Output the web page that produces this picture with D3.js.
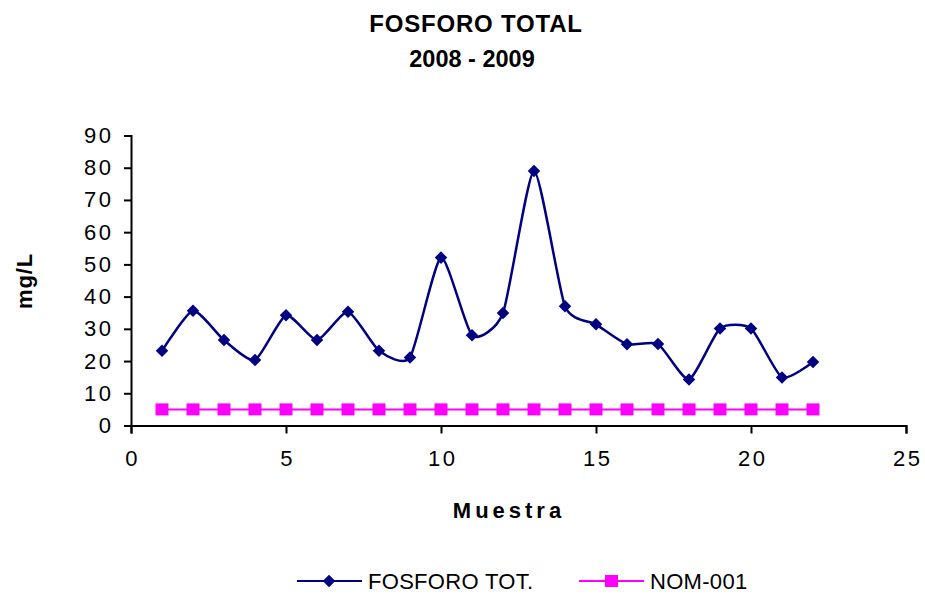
<!DOCTYPE html>
<html>
<head>
<meta charset="utf-8">
<script src="https://cdn.jsdelivr.net/npm/d3@7"></script>
<style>
  html, body { margin: 0; padding: 0; background: #fff; }
  svg { display: block; font-family: "Liberation Sans", Arial, sans-serif; }
</style>
</head>
<body>
<svg id="chart" width="925" height="594"></svg>
<script>
// Sample numbers (Muestra) and measured values
const muestras = [1,2,3,4,5,6,7,8,9,10,11,12,13,14,15,16,17,18,19,20,21,22];
const fosforoTotal = [23.2,35.6,26.5,20.3,34.2,26.5,35.3,23.2,21.1,52.1,28.0,34.9,79.0,37.0,31.4,25.2,25.3,14.3,30.1,30.1,14.9,19.7];
const nom001 = [5,5,5,5,5,5,5,5,5,5,5,5,5,5,5,5,5,5,5,5,5,5];
const xTicks = [0,5,10,15,20,25];
const yTicks = [0,10,20,30,40,50,60,70,80,90];
const seriesNames = ["FOSFORO TOT.", "NOM-001"];
const titleLines = ["FOSFORO TOTAL", "2008 - 2009"];

const svg = d3.select("#chart");
const x = d3.scaleLinear().domain([0, 25]).range([131, 906]);
const y = d3.scaleLinear().domain([0, 90]).range([425.5, 135.5]);

// Title
svg.append("text").attr("x", 476).attr("y", 32)
  .attr("text-anchor", "middle").attr("font-size", 24).attr("font-weight", "bold")
  .attr("letter-spacing", 0.8).text(titleLines[0]);
svg.append("text").attr("x", 472).attr("y", 67)
  .attr("text-anchor", "middle").attr("font-size", 23.5).attr("font-weight", "bold")
  .text(titleLines[1]);

// Axes
const yAxis = d3.axisLeft(y).tickValues(yTicks).tickSize(7).tickPadding(13);
const xAxis = d3.axisBottom(x).tickValues(xTicks).tickSize(8).tickPadding(17);

const gy = svg.append("g").attr("transform", `translate(${x(0)},0)`).call(yAxis);
const gx = svg.append("g").attr("transform", `translate(0,${y(0)})`).call(xAxis);
[gy, gx].forEach(g => {
  g.select(".domain").attr("stroke", "#000").attr("stroke-width", 2);
  g.selectAll(".tick line").attr("stroke", "#000").attr("stroke-width", 2);
  g.selectAll(".tick text").attr("font-size", 22).attr("fill", "#000")
    .attr("font-family", "Liberation Sans, Arial, sans-serif");
});
gy.selectAll(".tick text").attr("letter-spacing", 2.5).attr("dx", 2.5);
gx.selectAll(".tick text").attr("letter-spacing", 2.5).attr("dx", 1.2);

// Axis titles
svg.append("text").attr("transform", "translate(32,281) rotate(-90)")
  .attr("text-anchor", "middle").attr("font-size", 22).attr("font-weight", "bold")
  .attr("letter-spacing", 0.8).text("mg/L");
svg.append("text").attr("x", 509).attr("y", 518)
  .attr("text-anchor", "middle").attr("font-size", 22).attr("font-weight", "bold")
  .attr("letter-spacing", 4).text("Muestra");

// Series
const navy = "#000080", pink = "#FF00FF";
const diamond = d3.symbol().type(d3.symbolDiamond2).size(100);

const smooth = d3.line()
  .x((d, i) => x(muestras[i])).y(d => y(d))
  .curve(d3.curveCardinal.tension(0.4));
svg.append("path").datum(fosforoTotal).attr("d", smooth)
  .attr("fill", "none").attr("stroke", navy).attr("stroke-width", 2.5);

const straight = d3.line().x((d, i) => x(muestras[i])).y(d => y(d));
svg.append("path").datum(nom001).attr("d", straight)
  .attr("fill", "none").attr("stroke", pink).attr("stroke-width", 2);

svg.append("g").selectAll("rect").data(nom001).join("rect")
  .attr("x", (d, i) => x(muestras[i]) - 6.5).attr("y", d => y(d) - 6)
  .attr("width", 13).attr("height", 12).attr("fill", pink);

svg.append("g").selectAll("path").data(fosforoTotal).join("path")
  .attr("transform", (d, i) => `translate(${x(muestras[i])},${y(d)})`)
  .attr("d", diamond).attr("fill", navy);

// Legend
const legend = svg.append("g");
const items = [
  { name: seriesNames[0], color: navy, x0: 297, marker: "diamond" },
  { name: seriesNames[1], color: pink, x0: 579, marker: "square" }
];
items.forEach(it => {
  const ly = 581;
  legend.append("line").attr("x1", it.x0).attr("x2", it.x0 + 65)
    .attr("y1", ly).attr("y2", ly).attr("stroke", it.color).attr("stroke-width", 2);
  if (it.marker === "diamond") {
    legend.append("path").attr("transform", `translate(${it.x0 + 32},${ly})`)
      .attr("d", diamond).attr("fill", it.color);
  } else {
    legend.append("rect").attr("x", it.x0 + 26).attr("y", ly - 6)
      .attr("width", 13).attr("height", 12).attr("fill", it.color);
  }
  legend.append("text").attr("x", it.x0 + 71).attr("y", ly + 8)
    .attr("font-size", 22).attr("letter-spacing", 0.3).text(it.name);
});
</script>
</body>
</html>
